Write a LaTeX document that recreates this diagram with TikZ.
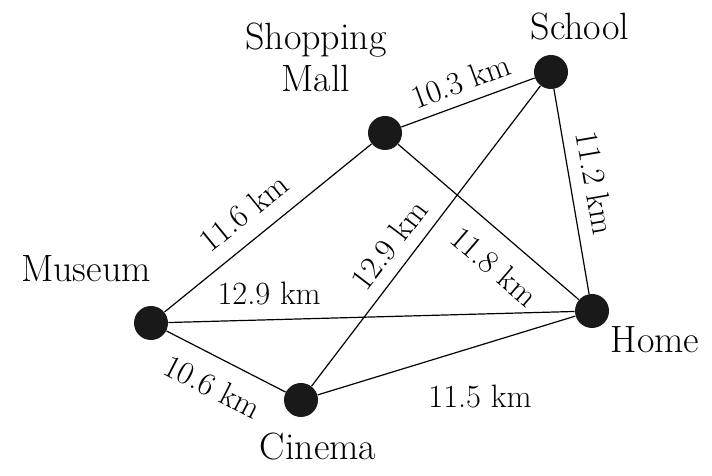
\documentclass[tikz,border=0pt]{standalone}
\usepackage{fontspec}
\usetikzlibrary{positioning}

\tikzset{
  place/.style={circle, fill=black!90, inner sep=0pt, minimum size=17pt},
  placename/.style={inner sep=0pt, font=\fontsize{19}{21}\selectfont},
  dist/.style={inner sep=0pt, font=\fontsize{16.2}{18}\selectfont},
  road/.style={line width=0.6pt}
}

\begin{document}
\begin{tikzpicture}[x=0.5pt, y=0.5pt]
    \useasboundingbox (0,0) rectangle (712,476);

    % Places
    \node[place] (school) at (551,404) {};
    \node[place] (mall) at (385,343) {};
    \node[place] (museum) at (151,153) {};
    \node[place] (home) at (592,165) {};
    \node[place] (cinema) at (301,76) {};

    % Names
    \node[placename, anchor=base] (schoolname) at (580,436) {School};
    \node[placename, anchor=south, align=center] (mallname) at (316,384) {Shopping\\Mall};
    \node[placename, anchor=base] (museumname) at (86,194) {Museum};
    \node[placename, anchor=base] (homename) at (655,123) {Home};
    \node[placename, anchor=base] (cinemaname) at (318,16) {Cinema};

    % Roads
    \draw[road] (mall) -- node[dist, sloped, above=5.1pt, pos=0.503] (d1) {10.3 km} (school);
    \draw[road] (school) -- node[dist, sloped, above=6.7pt, pos=0.479] (d2) {11.2 km} (home);
    \draw[road] (museum) -- node[dist, sloped, above=7.7pt, pos=0.466] (d3) {11.6 km} (mall);
    \draw[road] (cinema) -- node[dist, sloped, above=5.9pt, pos=0.423] (d4) {12.9 km} (school);
    \draw[road] (mall) -- node[dist, sloped, below=8.9pt, pos=0.64] (d5) {11.8 km} (home);
    \draw[road] (museum) -- node[dist, above=7.2pt, pos=0.248] (d6) {12.9 km} (home);
    \draw[road] (museum) -- node[dist, sloped, below=8.3pt, pos=0.498] (d7) {10.6 km} (cinema);
    \draw[road] (cinema) -- node[dist, pos=0.63, yshift=-25.5pt] (d8) {11.5 km} (home);
\end{tikzpicture}
\end{document}
